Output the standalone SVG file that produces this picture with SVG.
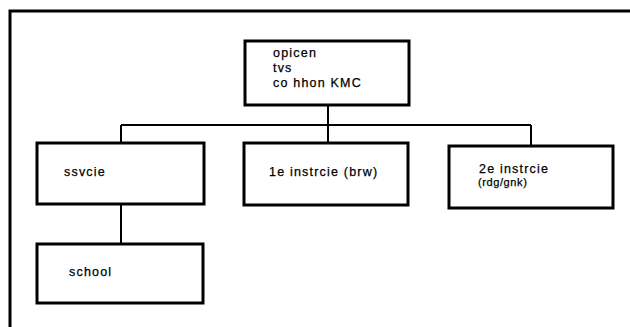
<svg xmlns="http://www.w3.org/2000/svg" width="630" height="327" viewBox="0 0 630 327">
<style>
.box{fill:#fff;stroke:#000;stroke-width:3}
.frame{fill:none;stroke:#000;stroke-width:3}
.conn{fill:none;stroke:#000;stroke-width:2}
text{font-family:"Liberation Sans",Arial,sans-serif;font-size:12.5px;letter-spacing:1.2px;fill:#000;stroke:#000;stroke-width:0.25}
.small{font-size:11px;letter-spacing:0.6px}
</style>
<rect width="630" height="327" fill="#fff"/>
<g id="frame">
<path class="frame" d="M10,327 V11 H630"/>
</g>
<g id="connectors">
<path class="conn" d="M328,105 V143"/>
<path class="conn" d="M121,125 H531"/>
<path class="conn" d="M121,125 V143"/>
<path class="conn" d="M531,125 V146"/>
<path class="conn" d="M121,204 V244"/>
</g>
<g id="top">
<rect class="box" x="245" y="41" width="164" height="64"/>
<text x="273" y="57">opicen</text>
<text x="273" y="72">tvs</text>
<text x="273" y="87">co hhon KMC</text>
</g>
<g id="ssvcie">
<rect class="box" x="37" y="143" width="167" height="61"/>
<text x="64" y="176">ssvcie</text>
</g>
<g id="instr1">
<rect class="box" x="244" y="143" width="164" height="62"/>
<text x="269" y="176">1e instrcie (brw)</text>
</g>
<g id="instr2">
<rect class="box" x="449" y="146" width="164" height="62"/>
<text x="479" y="173">2e instrcie</text>
<text class="small" x="478" y="186">(rdg/gnk)</text>
</g>
<g id="school">
<rect class="box" x="37" y="244" width="166" height="59"/>
<text x="69" y="276">school</text>
</g>
</svg>
